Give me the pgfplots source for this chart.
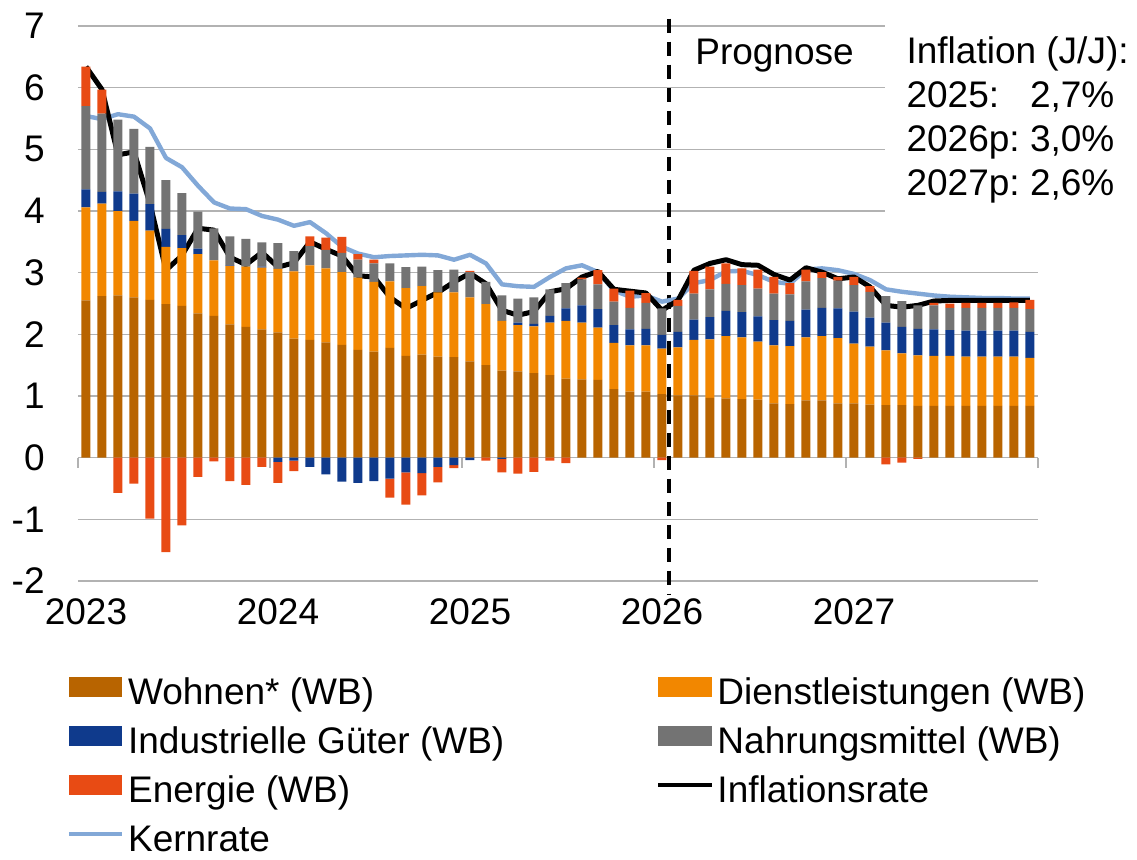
\documentclass[border=0pt]{standalone}
\usepackage{pgfplots}
\pgfplotsset{compat=1.18}
\usepackage{pgfplotstable}
\usepackage{fontspec}
\setmainfont{Liberation Sans}

\definecolor{cW}{RGB}{184,100,0}
\definecolor{cD}{RGB}{242,135,0}
\definecolor{cI}{RGB}{15,58,140}
\definecolor{cN}{RGB}{115,115,115}
\definecolor{cE}{RGB}{232,75,20}
\definecolor{cK}{RGB}{130,168,215}
\definecolor{gridgray}{RGB}{178,178,178}

\pgfplotstableread{
x W D I N E Infl Kern
0 2.55 1.51 0.29 1.35 0.64 6.34 5.54
1 2.62 1.50 0.19 1.27 0.39 5.97 5.49
2 2.63 1.37 0.32 1.16 -0.57 4.91 5.57
3 2.60 1.24 0.44 1.05 -0.42 4.96 5.53
4 2.56 1.12 0.43 0.93 -0.99 4.12 5.34
5 2.49 0.93 0.29 0.79 -1.53 3.04 4.86
6 2.46 0.94 0.21 0.68 -1.10 3.28 4.71
7 2.34 0.96 0.09 0.60 -0.31 3.72 4.41
8 2.30 0.90 0.00 0.52 -0.06 3.69 4.14
9 2.16 0.95 0.01 0.47 -0.38 3.25 4.04
10 2.12 0.98 0.00 0.45 -0.44 3.13 4.03
11 2.08 1.00 0.02 0.39 -0.15 3.33 3.92
12 2.03 1.03 -0.07 0.42 -0.34 3.09 3.86
13 1.93 1.09 -0.05 0.33 -0.17 3.16 3.76
14 1.91 1.21 -0.15 0.31 0.16 3.50 3.82
15 1.87 1.20 -0.27 0.30 0.20 3.38 3.64
16 1.83 1.18 -0.39 0.31 0.26 3.27 3.42
17 1.75 1.17 -0.41 0.29 0.09 2.95 3.31
18 1.72 1.13 -0.38 0.30 0.06 2.93 3.25
19 1.78 1.08 -0.34 0.29 -0.31 2.60 3.27
20 1.65 1.10 -0.24 0.34 -0.52 2.42 3.28
21 1.67 1.11 -0.25 0.32 -0.36 2.55 3.29
22 1.64 1.04 -0.15 0.36 -0.25 2.68 3.28
23 1.63 1.05 -0.12 0.37 -0.05 2.85 3.21
24 1.56 1.04 -0.04 0.41 0.02 2.99 3.29
25 1.50 0.99 0.00 0.36 -0.05 2.82 3.15
26 1.41 0.81 -0.02 0.41 -0.22 2.39 2.81
27 1.40 0.75 0.04 0.39 -0.26 2.31 2.78
28 1.37 0.76 0.04 0.43 -0.23 2.37 2.77
29 1.34 0.85 0.11 0.43 -0.05 2.69 2.93
30 1.28 0.94 0.20 0.41 -0.09 2.74 3.07
31 1.27 0.92 0.28 0.42 0.03 2.93 3.12
32 1.26 0.85 0.30 0.40 0.23 3.02 3.01
33 1.11 0.75 0.29 0.38 0.21 2.73 2.71
34 1.07 0.75 0.26 0.35 0.28 2.70 2.61
35 1.07 0.75 0.27 0.42 0.16 2.67 2.63
36 1.03 0.74 0.22 0.43 -0.04 2.39 2.53
37 1.01 0.78 0.25 0.42 0.10 2.55 2.58
38 1.01 0.90 0.33 0.42 0.37 3.04 2.83
39 0.97 0.95 0.36 0.45 0.37 3.15 2.88
40 0.96 1.01 0.41 0.44 0.33 3.21 3.02
41 0.95 1.00 0.41 0.44 0.27 3.13 3.03
42 0.94 0.94 0.41 0.45 0.31 3.12 2.96
43 0.88 0.94 0.41 0.43 0.27 2.97 2.85
44 0.87 0.94 0.41 0.43 0.18 2.88 2.82
45 0.93 1.02 0.45 0.46 0.19 3.08 3.05
46 0.93 1.04 0.46 0.48 0.10 3.01 3.07
47 0.88 1.06 0.48 0.45 0.06 2.90 3.04
48 0.88 0.97 0.52 0.43 0.13 2.93 2.98
49 0.86 0.94 0.47 0.42 0.09 2.77 2.88
50 0.85 0.89 0.45 0.43 -0.11 2.47 2.73
51 0.85 0.84 0.43 0.42 -0.08 2.44 2.69
52 0.84 0.82 0.43 0.38 -0.02 2.47 2.66
53 0.84 0.81 0.43 0.39 0.04 2.54 2.63
54 0.84 0.81 0.42 0.36 0.07 2.55 2.61
55 0.84 0.80 0.42 0.37 0.08 2.55 2.60
56 0.84 0.80 0.42 0.37 0.08 2.55 2.59
57 0.84 0.80 0.42 0.37 0.08 2.55 2.59
58 0.84 0.80 0.42 0.37 0.09 2.55 2.58
59 0.84 0.78 0.42 0.37 0.15 2.55 2.58
}\data

\newcommand\lfont{\fontsize{18.5}{22}\selectfont}
\newcommand\LE[1]{\rule[-5.6pt]{0pt}{24.5pt}\hspace{1.8pt}#1}
\newcommand\LA[1]{\LE{\makebox[264pt][l]{#1}}}

\pgfplotsset{
  barsty/.style={draw=none, fill=#1,
    legend image code/.code={\fill[fill=#1] (0pt,-5pt) rectangle (26.7pt,5pt);}},
}

\begin{document}
\begin{tikzpicture}
\path[use as bounding box] (-39pt,-139.5pt) rectangle (529.5pt,290.5pt);
\begin{axis}[
  at={(0,0)}, anchor=south west,
  scale only axis, width=480pt, height=277.5pt,
  xmin=-0.5, xmax=59.5, ymin=-2, ymax=7,
  ybar stacked, bar width=4.5pt,
  clip=false,
  axis line style={draw=none},
  major tick length=0pt, minor tick length=0pt,
  xtick={0,12,24,36,48}, xticklabels={2023,2024,2025,2026,2027},
  ytick={-2,-1,0,1,2,3,4,5,6,7}, yticklabels={-2,-1,0,1,2,3,4,5,6,7},
  /pgf/number format/assume math mode=true,
  ymajorgrids, grid style={gridgray, line width=0.8pt},
  tick label style={font=\lfont, inner sep=0pt},
  xticklabel style={anchor=north, yshift=-8.5pt},
  yticklabel style={anchor=east, xshift=-16.5pt},
  legend columns=2,
  legend style={at={(axis description cs:-0.0122,-0.1536)}, anchor=north west,
    draw=none, fill=none, inner sep=0pt, font=\lfont, row sep=4.05pt,
    cells={anchor=west}, nodes={inner sep=0pt}},
]
\addplot[draw=none, fill=cI, forget plot] table[x=x, y expr={min(\thisrow{I},0)}] {\data};
\addplot[draw=none, fill=cE, forget plot] table[x=x, y expr={min(\thisrow{E},0)}] {\data};
\addplot[barsty=cW] table[x=x, y=W] {\data};
\addlegendentry{\LA{Wohnen* (WB)}}
\addplot[barsty=cD] table[x=x, y=D] {\data};
\addlegendentry{\LE{Dienstleistungen (WB)}}
\addplot[barsty=cI] table[x=x, y expr={max(\thisrow{I},0)}] {\data};
\addlegendentry{\LA{Industrielle Güter (WB)}}
\addplot[barsty=cN] table[x=x, y=N] {\data};
\addlegendentry{\LE{Nahrungsmittel (WB)}}
\addplot[barsty=cE] table[x=x, y expr={max(\thisrow{E},0)}] {\data};
\addlegendentry{\LA{Energie (WB)}}
\addplot[sharp plot, stack plots=false, black, line width=2.5pt, line join=round, mark=none,
  legend image code/.code={\draw[black, line width=2.2pt] (0pt,0pt) -- (26.7pt,0pt);}]
  table[x=x, y=Infl] {\data};
\addlegendentry{\LE{Inflationsrate}}
\addplot[sharp plot, stack plots=false, cK, line width=2.2pt, line join=round, mark=none,
  legend image code/.code={\draw[cK, line width=2.2pt] (0pt,0pt) -- (26.7pt,0pt);}]
  table[x=x, y=Kern] {\data};
\addlegendentry{\LA{Kernrate}}

\draw[gridgray, line width=0.8pt] (axis cs:-0.5,0) -- ++(0pt,-5pt);
\draw[gridgray, line width=0.8pt] (axis cs:11.5,0) -- ++(0pt,-5pt);
\draw[gridgray, line width=0.8pt] (axis cs:23.5,0) -- ++(0pt,-5pt);
\draw[gridgray, line width=0.8pt] (axis cs:35.5,0) -- ++(0pt,-5pt);
\draw[gridgray, line width=0.8pt] (axis cs:47.5,0) -- ++(0pt,-5pt);
\draw[gridgray, line width=0.8pt] (axis cs:59.5,0) -- ++(0pt,-5pt);

\draw[black, line width=2pt, dash pattern=on 7pt off 4.5pt] (axis cs:36.45,7.12) -- (axis cs:36.45,-2.22);
\node[anchor=base west, font=\lfont, inner sep=0pt] at (axis cs:38.06,6.37) {Prognose};
\end{axis}
\fill[white] (403.5pt,178pt) rectangle (529.5pt,283pt);
\node[anchor=base west, font=\lfont, inner sep=0pt] at (414.1pt,258.5pt) {Inflation (J/J):};
\node[anchor=base west, font=\lfont, inner sep=0pt] at (414.1pt,236.5pt) {2025:};
\node[anchor=base west, font=\lfont, inner sep=0pt] at (414.1pt,214.5pt) {2026p:};
\node[anchor=base west, font=\lfont, inner sep=0pt] at (414.1pt,192.5pt) {2027p:};
\node[anchor=base west, font=\lfont, inner sep=0pt] at (475.8pt,236.5pt) {2,7\%};
\node[anchor=base west, font=\lfont, inner sep=0pt] at (475.8pt,214.5pt) {3,0\%};
\node[anchor=base west, font=\lfont, inner sep=0pt] at (475.8pt,192.5pt) {2,6\%};
\end{tikzpicture}
\end{document}
